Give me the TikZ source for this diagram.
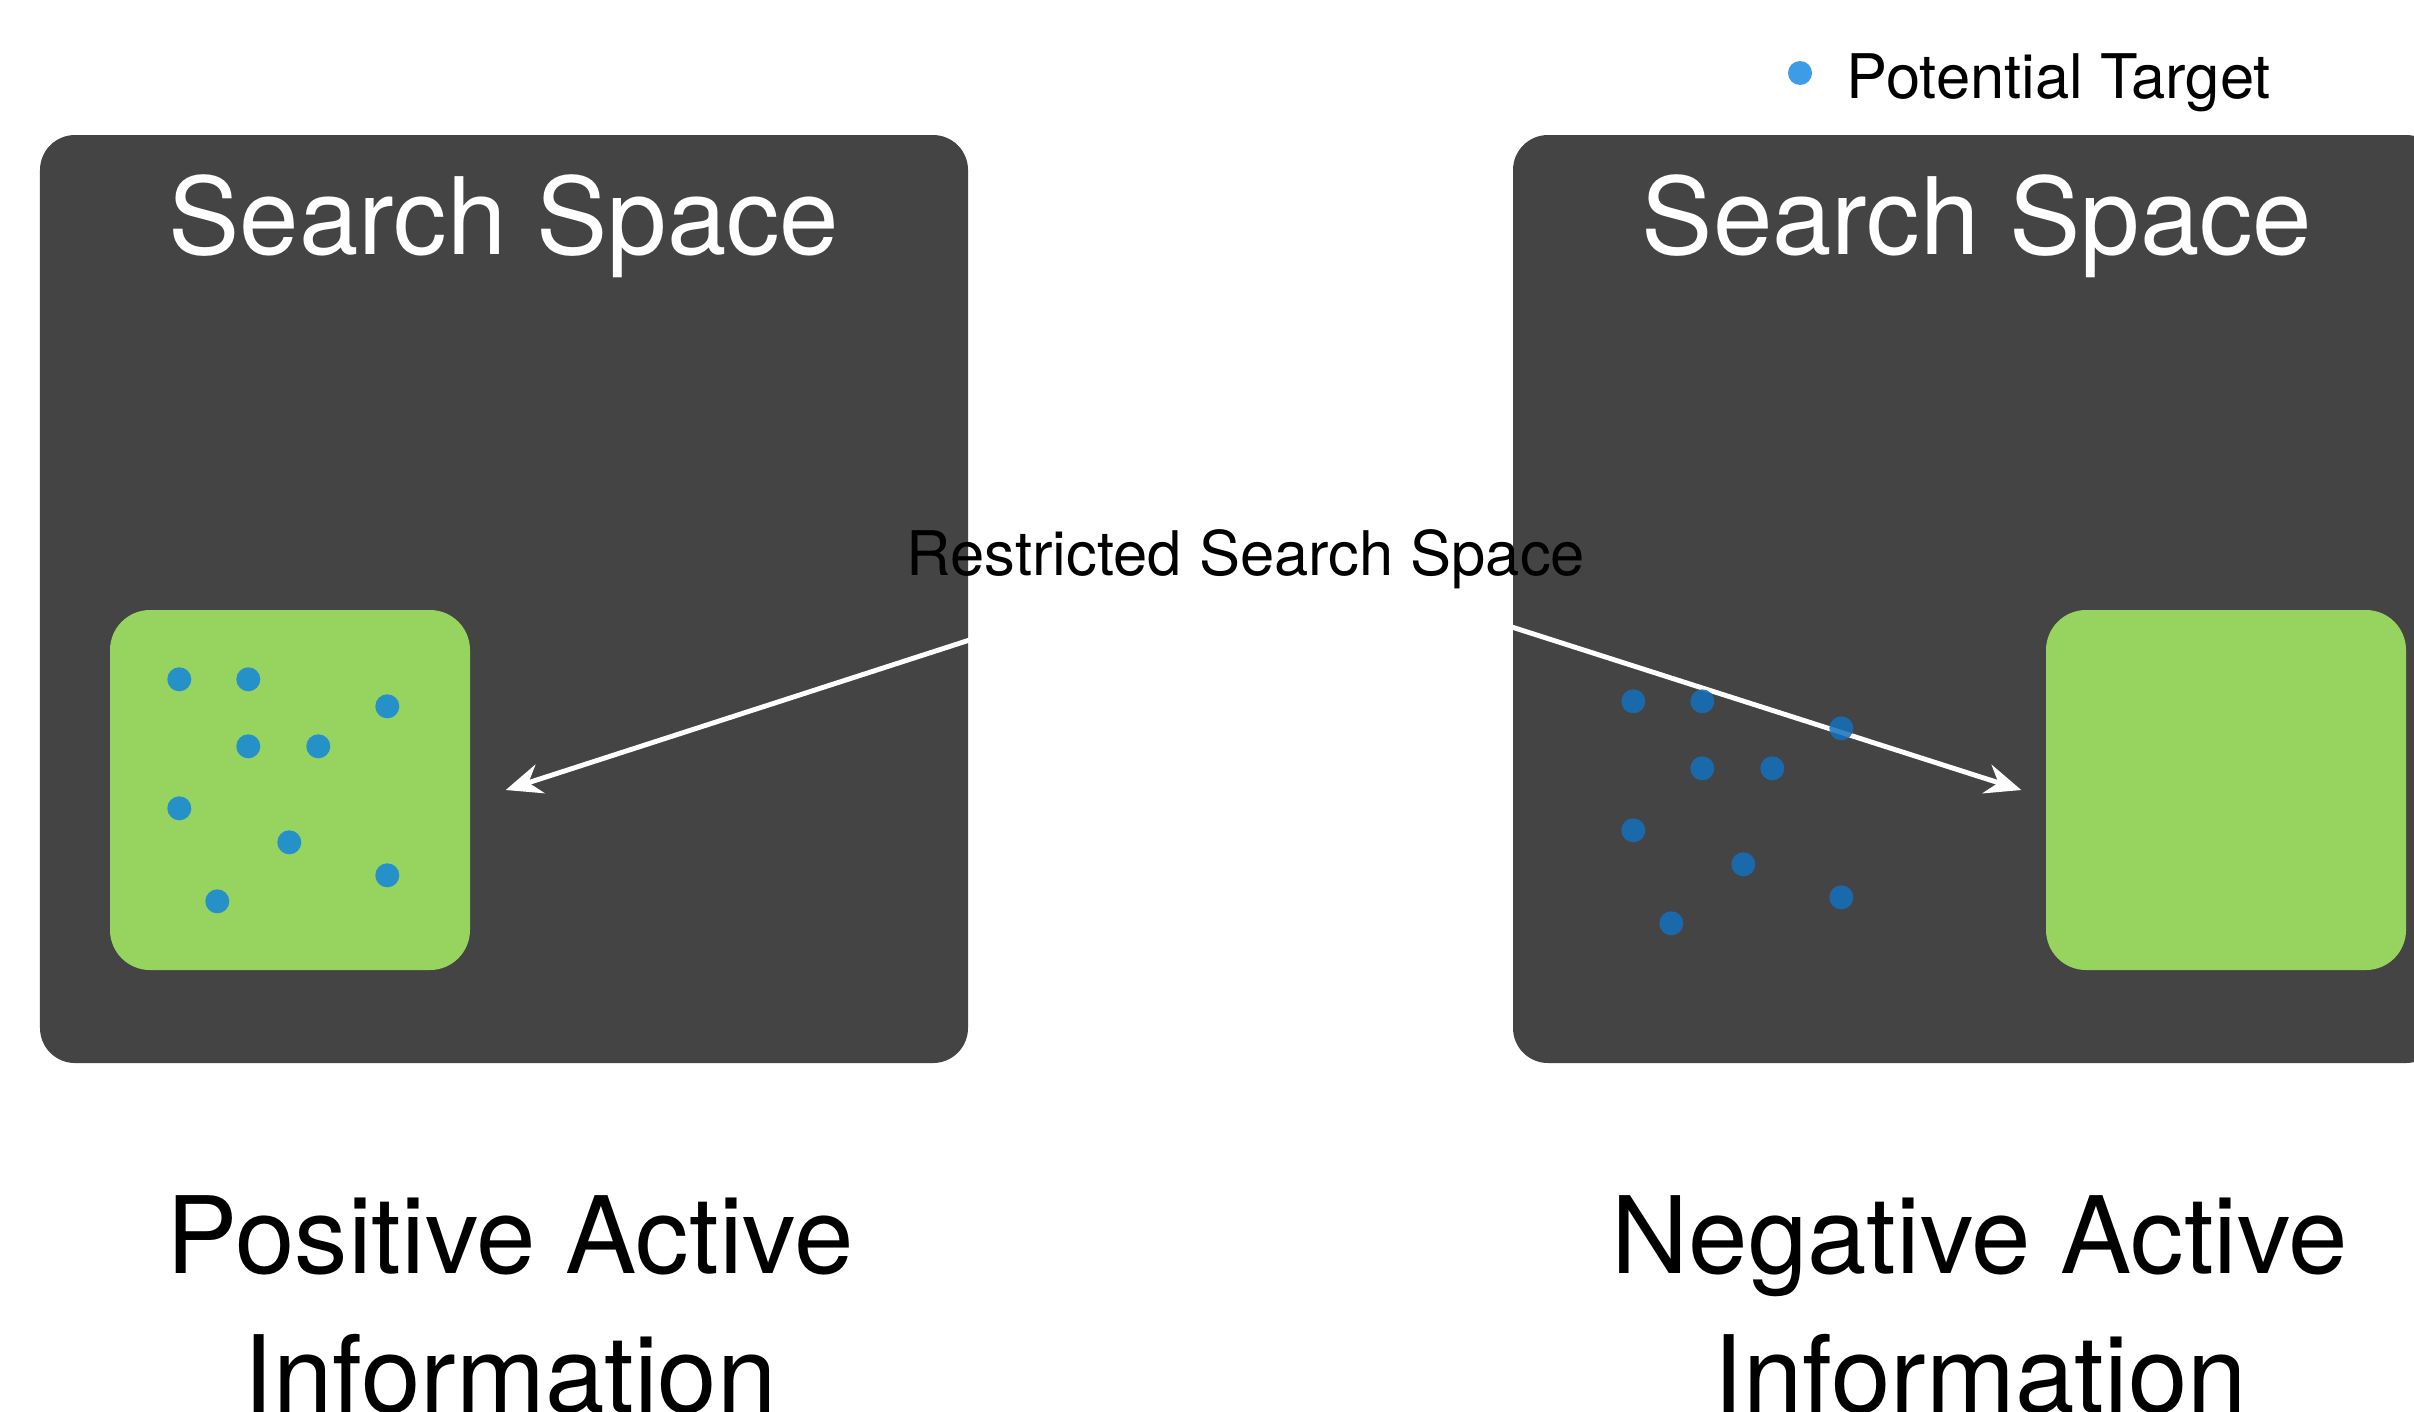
\documentclass[tikz,border=0pt]{standalone}
\usepackage{fontspec}
\setmainfont{TeX Gyre Heros}
\usepackage{tikz}
\usetikzlibrary{arrows.meta,positioning}
\definecolor{boxgray}{RGB}{68,68,68}
\definecolor{areagreen}{RGB}{150,211,95}
\definecolor{dotteal}{RGB}{38,145,200}
\definecolor{dotblue}{RGB}{18,112,190}
\definecolor{keyblue}{RGB}{62,156,230}
\tikzset{
	spacebox/.style={fill=boxgray, rounded corners=0.35cm, minimum width=9.28cm, minimum height=9.28cm, inner sep=0pt},
	targetbox/.style={fill=areagreen, rounded corners=0.4cm, minimum width=3.6cm, minimum height=3.6cm, inner sep=0pt},
	target/.style={circle, fill=#1, minimum size=0.24cm, inner sep=0pt},
	bigtext/.style={font=\fontsize{30.4}{36}\selectfont, inner sep=0pt},
	smalltext/.style={font=\fontsize{17.5}{21}\selectfont, inner sep=0pt},
	pointer/.style={draw=white, line width=1.4pt, -{Stealth[length=0.36cm,width=0.3cm,inset=0.12cm]}}
}

\begin{document}
\begin{tikzpicture}
	\useasboundingbox[fill=white] (0,0) rectangle (24.14,-14.11);
	\node[spacebox] (posbox) at (5.04,-5.99) {};
	\node[spacebox] (negbox) at (19.77,-5.99) {};
	\node[targetbox] (posarea) at (2.90,-7.90) {};
	\node[targetbox] (negarea) at (22.26,-7.90) {};
	\node[bigtext, text=white, anchor=base] (postitle) at ([yshift=-1.2cm]posbox.north) {Search Space};
	\node[bigtext, text=white, anchor=base] (negtitle) at ([yshift=-1.2cm]negbox.north) {Search Space};

	\node[smalltext, anchor=base] (restrict) at (12.46,-5.75) {Restricted Search Space};
	\coordinate (fromleft) at ([shift={(0.85,-0.58)}]restrict.base west);
	\coordinate (fromright) at ([shift={(-0.99,-0.44)}]restrict.base east);
	\draw[pointer] (fromleft) -- ([xshift=0.35cm]posarea.east);
	\draw[pointer] (fromright) -- ([xshift=-0.24cm]negarea.west);

	\foreach \x/\y [count=\i] in {0.70/0.70, 1.39/0.70, 2.78/0.97, 1.39/1.37, 2.09/1.37, 0.70/1.99, 1.80/2.33, 2.78/2.66, 1.08/2.92} {
		\node[target=dotteal] (pos-\i) at ([shift={(\x,-\y)}]posarea.north west) {};
		\node[target=dotblue, opacity=0.85] (neg-\i) at ([shift={({0.51+\x},{-4.97-\y})}]negbox.north west) {};
	}

	\node[target=keyblue] (keydot) at (18.00,-0.73) {};
	\node[smalltext, anchor=base west] (keytext) at (18.46,-0.98) {Potential Target};

	\node[bigtext, anchor=base] (posname) at (5.10,-12.73) {Positive Active};
	\node[bigtext, anchor=base] (posinfo) at ([yshift=-1.39cm]posname.base) {Information};
	\node[bigtext, anchor=base] (negname) at (19.80,-12.73) {Negative Active};
	\node[bigtext, anchor=base] (neginfo) at ([yshift=-1.39cm]negname.base) {Information};
\end{tikzpicture}
\end{document}
